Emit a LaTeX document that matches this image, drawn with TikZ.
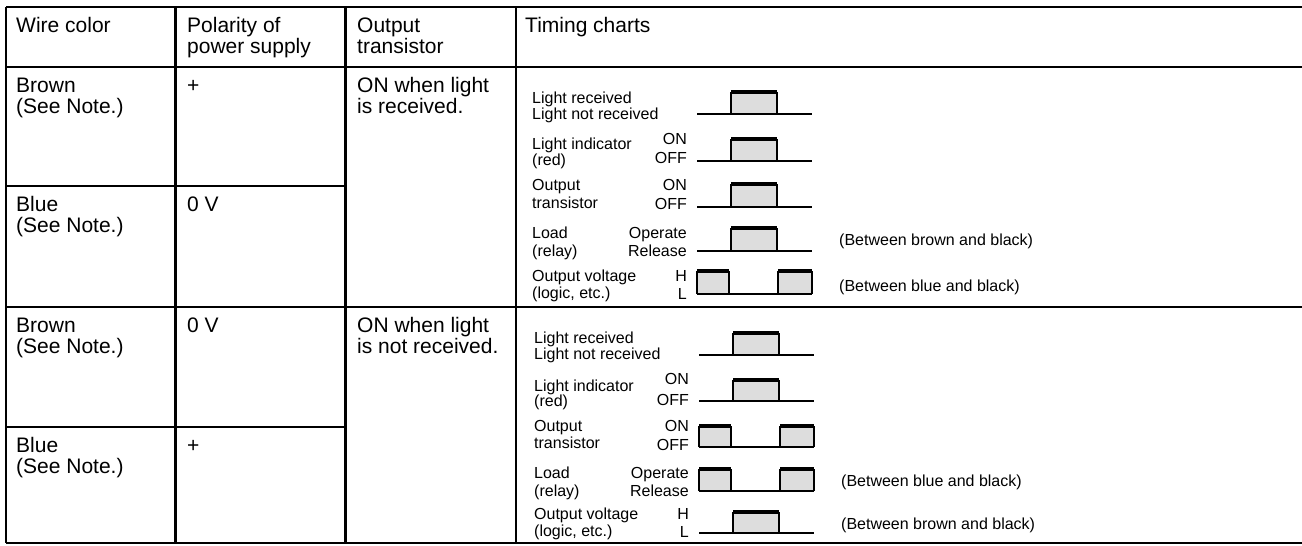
\documentclass[tikz,border=0pt]{standalone}
\usepackage{fontspec}
\setmainfont{Liberation Sans}
\newcommand\tblfont{\fontsize{21}{22}\selectfont}
\newcommand\chtfont{\fontsize{16}{17}\selectfont}
\definecolor{pulsegray}{RGB}{221,221,221}
\tikzset{
  tbl/.style={font=\tblfont, anchor=base west, inner sep=0pt},
  lbl/.style={font=\chtfont, anchor=base west, inner sep=0pt},
  lblr/.style={font=\chtfont, anchor=base east, inner sep=0pt},
  gridline/.style={line width=2.3pt},
  outerline/.style={line width=2.6pt},
  sigline/.style={line width=1.4pt},
  pulseside/.style={line width=1.2pt},
  pulsetop/.style={line width=3.2pt},
}
% normal pulse: #1 x shift, #2 baseline y, #3 top y
\newcommand\sigup[3]{%
  \fill[pulsegray] (731+#1,#2) rectangle (777+#1,#3);
  \draw[sigline] (697+#1,#2) -- (812+#1,#2);
  \draw[pulseside] (731+#1,#2) -- (731+#1,#3) (777+#1,#3) -- (777+#1,#2);
  \draw[pulsetop] (731+#1,#3) -- (777+#1,#3);
}
% inverted pulse train
\newcommand\sigdown[3]{%
  \fill[pulsegray] (697+#1,#2) rectangle (729+#1,#3);
  \fill[pulsegray] (778+#1,#2) rectangle (812+#1,#3);
  \draw[sigline] (697+#1,#2) -- (812+#1,#2);
  \draw[pulseside] (697+#1,#2) -- (697+#1,#3) (729+#1,#3) -- (729+#1,#2);
  \draw[pulseside] (778+#1,#2) -- (778+#1,#3) (812+#1,#3) -- (812+#1,#2);
  \draw[pulsetop] (697+#1,#3) -- (729+#1,#3);
  \draw[pulsetop] (778+#1,#3) -- (812+#1,#3);
}
\begin{document}
\begin{tikzpicture}[x=1pt,y=-1pt]
\useasboundingbox (0,0) rectangle (1302,546);
% ---------- table grid ----------
\draw[outerline] (6,7) -- (1302,7);
\draw[gridline] (6,67) -- (1302,67);
\draw[gridline] (6,186) -- (345.5,186);
\draw[gridline] (6,307) -- (1302,307);
\draw[gridline] (6,427) -- (345.5,427);
\draw[outerline] (6,543) -- (1302,543);
\draw[outerline] (6,7) -- (6,543);
\draw[gridline] (175.5,7) -- (175.5,543);
\draw[gridline] (345.5,7) -- (345.5,543);
\draw[gridline] (516,7) -- (516,543);
% ---------- header ----------
\node[tbl] (hwire) at (16,32) {Wire color};
\node[tbl] (hpol1) at (187,32) {Polarity of};
\node[tbl] (hpol2) at (187,53) {power supply};
\node[tbl] (hout1) at (357,32) {Output};
\node[tbl] (hout2) at (357,53) {transistor};
\node[tbl] (htim) at (525,32) {Timing charts};
% ---------- section 1 left columns ----------
\node[tbl] (s1brown) at (16,92) {Brown};
\node[tbl] (s1brownn) at (16,113) {(See Note.)};
\node[tbl] (s1plus) at (187,92) {+};
\node[tbl] (s1on1) at (357,92) {ON when light};
\node[tbl] (s1on2) at (357,113) {is received.};
\node[tbl] (s1blue) at (16,211) {Blue};
\node[tbl] (s1bluen) at (16,232) {(See Note.)};
\node[tbl] (s1zero) at (187,211) {0 V};
% ---------- section 2 left columns ----------
\node[tbl] (s2brown) at (16,332) {Brown};
\node[tbl] (s2brownn) at (16,353) {(See Note.)};
\node[tbl] (s2zero) at (187,332) {0 V};
\node[tbl] (s2on1) at (357,332) {ON when light};
\node[tbl] (s2on2) at (357,353) {is not received.};
\node[tbl] (s2blue) at (16,452) {Blue};
\node[tbl] (s2bluen) at (16,473) {(See Note.)};
\node[tbl] (s2plus) at (187,452) {+};
% ---------- section 1 timing charts ----------
\node[lbl] (a1l1) at (532,103) {Light received};
\node[lbl] (a1l2) at (532,119) {Light not received};
\sigup{0}{114}{92}
\node[lbl] (a2l1) at (532,149) {Light indicator};
\node[lbl] (a2l2) at (532,165) {(red)};
\node[lblr] (a2r1) at (687,144) {ON};
\node[lblr] (a2r2) at (687,163) {OFF};
\sigup{0}{161}{139}
\node[lbl] (a3l1) at (532,190) {Output};
\node[lbl] (a3l2) at (532,208) {transistor};
\node[lblr] (a3r1) at (687,190) {ON};
\node[lblr] (a3r2) at (687,209) {OFF};
\sigup{0}{207}{184}
\node[lbl] (a4l1) at (532,238) {Load};
\node[lbl] (a4l2) at (532,256) {(relay)};
\node[lblr] (a4r1) at (687,238) {Operate};
\node[lblr] (a4r2) at (687,256) {Release};
\sigup{0}{251}{228}
\node[lbl] (a4n) at (839,245) {(Between brown and black)};
\node[lbl] (a5l1) at (532,281) {Output voltage};
\node[lbl] (a5l2) at (532,298) {(logic, etc.)};
\node[lblr] (a5r1) at (687,281) {H};
\node[lblr] (a5r2) at (687,299) {L};
\sigdown{0}{294}{271}
\node[lbl] (a5n) at (839,291) {(Between blue and black)};
% ---------- section 2 timing charts ----------
\node[lbl] (b1l1) at (534,343) {Light received};
\node[lbl] (b1l2) at (534,359) {Light not received};
\sigup{2}{355}{333}
\node[lbl] (b2l1) at (534,391) {Light indicator};
\node[lbl] (b2l2) at (534,406) {(red)};
\node[lblr] (b2r1) at (689,384) {ON};
\node[lblr] (b2r2) at (689,405) {OFF};
\sigup{2}{401}{380}
\node[lbl] (b3l1) at (534,431) {Output};
\node[lbl] (b3l2) at (534,448) {transistor};
\node[lblr] (b3r1) at (689,431) {ON};
\node[lblr] (b3r2) at (689,450) {OFF};
\sigdown{2}{447}{426}
\node[lbl] (b4l1) at (534,478) {Load};
\node[lbl] (b4l2) at (534,496) {(relay)};
\node[lblr] (b4r1) at (689,478) {Operate};
\node[lblr] (b4r2) at (689,496) {Release};
\sigdown{2}{491}{469}
\node[lbl] (b4n) at (841,486) {(Between blue and black)};
\node[lbl] (b5l1) at (534,519) {Output voltage};
\node[lbl] (b5l2) at (534,536) {(logic, etc.)};
\node[lblr] (b5r1) at (689,519) {H};
\node[lblr] (b5r2) at (689,537) {L};
\sigup{2}{533}{512}
\node[lbl] (b5n) at (841,529) {(Between brown and black)};
\end{tikzpicture}
\end{document}
